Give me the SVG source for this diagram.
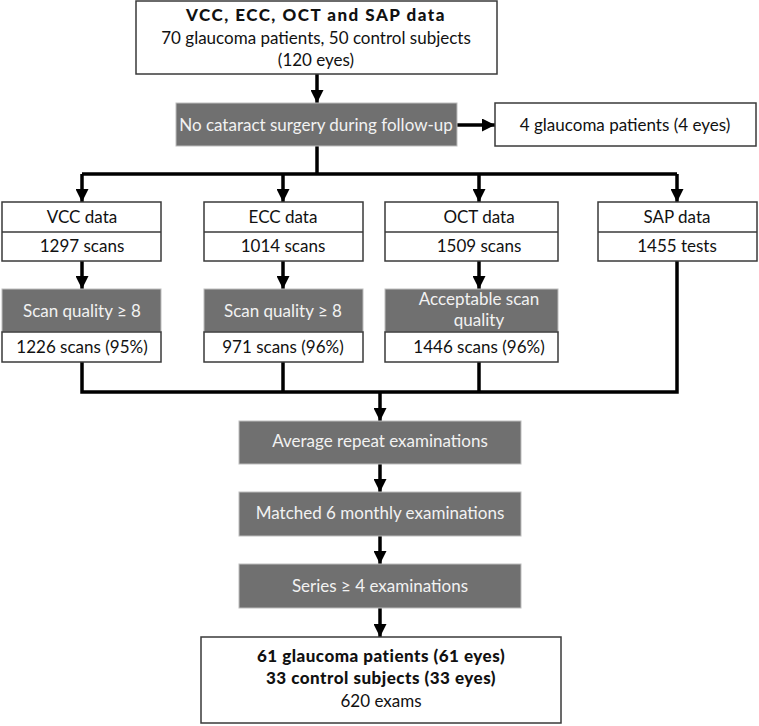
<svg xmlns="http://www.w3.org/2000/svg" width="759" height="726" viewBox="0 0 759 726">
<style>
.w{fill:#fff;stroke:#3a3a3a;stroke-width:1.5}
.g{fill:#707070;stroke:#bdbdbd;stroke-width:1}
text{font-family:Lato,"Open Sans","Liberation Sans",sans-serif;font-size:17px;text-anchor:middle}
.tw{fill:#f2f2f2}
.tb{fill:#111}
.b{font-weight:900;letter-spacing:0.5px}
.wide{letter-spacing:1.5px}
.c{fill:none;stroke:#000;stroke-width:3.5}
</style>
<defs>
<marker id="ah" markerUnits="userSpaceOnUse" markerWidth="13" markerHeight="13" refX="13" refY="6.5" orient="auto">
<path d="M0,0 L13,6.5 L0,13 z" fill="#000"/>
</marker>
</defs>
<rect width="759" height="726" fill="#fff"/>
<g id="connectors">
<line class="c" x1="317" y1="74" x2="317" y2="103" marker-end="url(#ah)"/>
<line class="c" x1="457" y1="125" x2="495" y2="125" marker-end="url(#ah)"/>
<polyline class="c" points="317,146 317,174"/>
<polyline class="c" points="82,174 677,174"/>
<line class="c" x1="82" y1="174" x2="82" y2="202" marker-end="url(#ah)"/>
<line class="c" x1="283" y1="174" x2="283" y2="202" marker-end="url(#ah)"/>
<line class="c" x1="479" y1="174" x2="479" y2="202" marker-end="url(#ah)"/>
<line class="c" x1="677" y1="174" x2="677" y2="202" marker-end="url(#ah)"/>
<line class="c" x1="82" y1="261" x2="82" y2="289" marker-end="url(#ah)"/>
<line class="c" x1="283" y1="261" x2="283" y2="289" marker-end="url(#ah)"/>
<line class="c" x1="479" y1="261" x2="479" y2="289" marker-end="url(#ah)"/>
<polyline class="c" points="82,362 82,392 677,392 677,261"/>
<line class="c" x1="283" y1="362" x2="283" y2="392"/>
<line class="c" x1="479" y1="362" x2="479" y2="392"/>
<line class="c" x1="380" y1="392" x2="380" y2="421" marker-end="url(#ah)"/>
<line class="c" x1="380" y1="464" x2="380" y2="492" marker-end="url(#ah)"/>
<line class="c" x1="380" y1="536" x2="380" y2="564" marker-end="url(#ah)"/>
<line class="c" x1="380" y1="608" x2="380" y2="637" marker-end="url(#ah)"/>
</g>
<g id="source">
<rect class="w" x="136" y="1" width="361" height="73"/>
<text class="tb b wide" x="316" y="21">VCC, ECC, OCT and SAP data</text>
<text class="tb" x="316" y="44">70 glaucoma patients, 50 control subjects</text>
<text class="tb" x="316" y="66">(120 eyes)</text>
</g>
<g id="no-cataract">
<rect class="g" x="176" y="103" width="281" height="43"/>
<text class="tw" x="316" y="131">No cataract surgery during follow-up</text>
</g>
<g id="excluded">
<rect class="w" x="495" y="103" width="261" height="43"/>
<text class="tb" x="625" y="131">4 glaucoma patients (4 eyes)</text>
</g>
<g id="vcc">
<rect class="w" x="2" y="202" width="159" height="59"/>
<line x1="2" y1="232" x2="161" y2="232" stroke="#3a3a3a" stroke-width="1.5"/>
<text class="tb" x="82" y="223">VCC data</text>
<text class="tb" x="82" y="252">1297 scans</text>
</g>
<g id="ecc">
<rect class="w" x="204" y="202" width="159" height="59"/>
<line x1="204" y1="232" x2="363" y2="232" stroke="#3a3a3a" stroke-width="1.5"/>
<text class="tb" x="283" y="223">ECC data</text>
<text class="tb" x="283" y="252">1014 scans</text>
</g>
<g id="oct">
<rect class="w" x="385" y="202" width="173" height="59"/>
<line x1="385" y1="232" x2="558" y2="232" stroke="#3a3a3a" stroke-width="1.5"/>
<text class="tb" x="479" y="223">OCT data</text>
<text class="tb" x="479" y="252">1509 scans</text>
</g>
<g id="sap">
<rect class="w" x="598" y="202" width="159" height="59"/>
<line x1="598" y1="232" x2="757" y2="232" stroke="#3a3a3a" stroke-width="1.5"/>
<text class="tb" x="677" y="223">SAP data</text>
<text class="tb" x="677" y="252">1455 tests</text>
</g>
<g id="vcc-quality">
<rect class="g" x="2" y="289" width="159" height="43"/>
<text class="tw" x="82" y="317">Scan quality ≥ 8</text>
<rect class="w" x="2" y="332" width="159" height="30"/>
<text class="tb" x="82" y="353">1226 scans (95%)</text>
</g>
<g id="ecc-quality">
<rect class="g" x="204" y="289" width="159" height="43"/>
<text class="tw" x="283" y="317">Scan quality ≥ 8</text>
<rect class="w" x="204" y="332" width="159" height="30"/>
<text class="tb" x="283" y="353">971 scans (96%)</text>
</g>
<g id="oct-quality">
<rect class="g" x="385" y="289" width="173" height="43"/>
<text class="tw" x="479" y="305">Acceptable scan</text>
<text class="tw" x="479" y="326">quality</text>
<rect class="w" x="385" y="332" width="173" height="30"/>
<text class="tb" x="479" y="353">1446 scans (96%)</text>
</g>
<g id="average">
<rect class="g" x="239" y="421" width="282" height="43"/>
<text class="tw" x="380" y="447">Average repeat examinations</text>
</g>
<g id="matched">
<rect class="g" x="239" y="492" width="282" height="44"/>
<text class="tw" x="380" y="519">Matched 6 monthly examinations</text>
</g>
<g id="series">
<rect class="g" x="239" y="564" width="282" height="44"/>
<text class="tw" x="380" y="592">Series ≥ 4 examinations</text>
</g>
<g id="final">
<rect class="w" x="201" y="637" width="360" height="86"/>
<text class="tb b" x="381" y="662">61 glaucoma patients (61 eyes)</text>
<text class="tb b" x="381" y="684">33 control subjects (33 eyes)</text>
<text class="tb" x="381" y="707">620 exams</text>
</g>
</svg>
